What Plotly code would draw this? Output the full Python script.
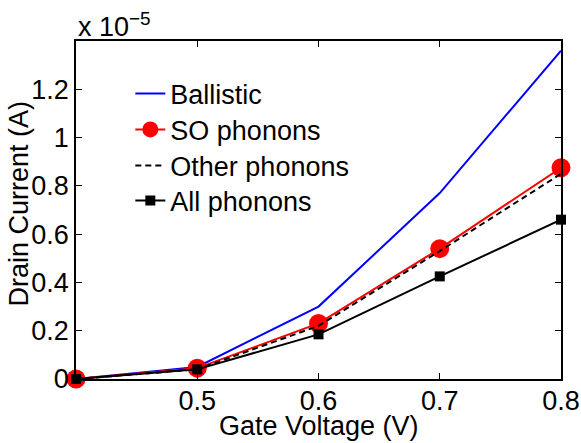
import plotly.graph_objects as go

# Gate voltage (V)
vg = [0.4, 0.5, 0.6, 0.7, 0.8]
# Drain current in units of 1e-5 A
ballistic = [0.0, 0.05, 0.30, 0.77, 1.36]
so_phonons = [0.0, 0.045, 0.23, 0.54, 0.875]
other_phonons = [0.0, 0.04, 0.22, 0.53, 0.85]
all_phonons = [0.0, 0.04, 0.185, 0.425, 0.66]

x_ticks = [0.5, 0.6, 0.7, 0.8]
y_ticks = [0, 0.2, 0.4, 0.6, 0.8, 1.0, 1.2]
y_ticktext = ["0", "0.2", "0.4", "0.6", "0.8", "1", "1.2"]

FONT = "Liberation Sans, Arial, Helvetica, sans-serif"
FS = 27

fig = go.Figure()
fig.add_trace(go.Scatter(x=vg, y=ballistic, mode="lines", name="Ballistic",
                         line=dict(color="#0000ff", width=2), cliponaxis=False,
                         legend="legend"))
fig.add_trace(go.Scatter(x=vg, y=so_phonons, mode="lines+markers", name="SO phonons",
                         line=dict(color="#ff0000", width=2),
                         marker=dict(symbol="circle", size=19, color="#ff0000"),
                         cliponaxis=False, legend="legend2"))
fig.add_trace(go.Scatter(x=vg, y=other_phonons, mode="lines", name="Other phonons",
                         line=dict(color="black", width=2, dash="6px,4px"), cliponaxis=False,
                         legend="legend3"))
fig.add_trace(go.Scatter(x=vg, y=all_phonons, mode="lines+markers", name="All phonons",
                         line=dict(color="black", width=2),
                         marker=dict(symbol="square", size=10, color="black"),
                         cliponaxis=False, legend="legend4"))

axis_common = dict(showline=True, linecolor="black", linewidth=1.5, mirror="ticks",
                   ticks="inside", ticklen=6, tickcolor="black", tickwidth=1,
                   showgrid=False, zeroline=False, automargin=False,
                   tickfont=dict(family=FONT, size=FS, color="black"))

fig.update_xaxes(range=[0.4, 0.8], tickvals=x_ticks, ticktext=["0.5", "0.6", "0.7", "0.8"],
                 ticklabelstandoff=-3, **axis_common)
fig.update_yaxes(range=[0, 1.4], tickvals=y_ticks, ticktext=y_ticktext,
                 **axis_common)

title_font = dict(family=FONT, size=FS, color="black")
fig.add_annotation(text="Gate Voltage (V)", xref="paper", yref="paper", x=0.5, y=-0.188,
                   xanchor="center", yanchor="bottom", showarrow=False, font=title_font)
fig.add_annotation(text="Drain Current (A)", xref="paper", yref="paper", x=-0.117, y=0.52,
                   xanchor="center", yanchor="middle", textangle=-90, showarrow=False,
                   font=title_font)
fig.add_annotation(text="x 10<sup>−5</sup>", xref="paper", yref="paper", x=0, y=1.0,
                   xanchor="left", yanchor="bottom", showarrow=False, yshift=-3,
                   font=title_font)

def leg(yc):
    return dict(x=0.112, y=yc, xanchor="left", yanchor="middle",
                bgcolor="rgba(0,0,0,0)", borderwidth=0,
                font=dict(family=FONT, size=FS, color="black"), itemwidth=30)

fig.update_layout(
    width=581, height=443,
    margin=dict(l=76, r=20, t=41, b=64),
    paper_bgcolor="white", plot_bgcolor="white",
    showlegend=True,
    legend=leg(0.843),
    legend2=leg(0.737),
    legend3=leg(0.630),
    legend4=leg(0.527),
    font=dict(family=FONT, size=FS, color="black"),
)

fig.write_html("out.html")
